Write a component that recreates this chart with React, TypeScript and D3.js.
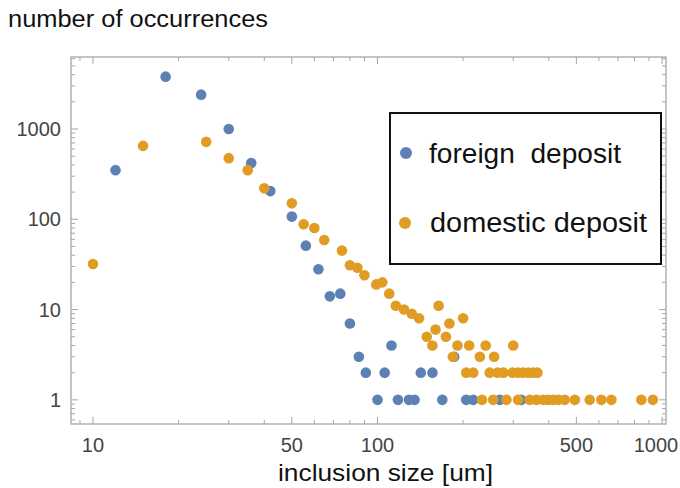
import React from "react";
import * as d3 from "d3";

const W = 680;
const H = 488;

// foreign deposit (blue)
const foreignSize = [12, 18, 24, 30, 36, 42, 50, 56, 62, 68, 74, 80, 86, 91, 100, 106, 112, 118, 129, 135, 142, 156, 169, 186, 205, 217, 269, 320];
const foreignCount = [350, 3800, 2400, 1000, 420, 205, 107, 51, 28, 14, 15, 7, 3, 2, 1, 2, 4, 1, 1, 1, 2, 2, 1, 3, 1, 1, 1, 1];

// domestic deposit (orange)
const domesticSize = [10, 15, 25, 30, 35, 40, 50, 55, 60, 65, 75, 80, 85, 90, 99, 104, 110, 116, 124, 132, 140, 149, 156, 160, 164, 174, 179, 184, 191, 200, 205, 210, 217, 229, 233, 240, 248, 255, 257, 264, 277, 284, 298, 300, 312, 312, 325, 339, 343, 353, 362, 365, 382, 398, 414, 432, 455, 494, 557, 612, 664, 846, 929];
const domesticCount = [32, 650, 720, 475, 350, 220, 150, 88, 80, 59, 45, 31, 29, 24, 19, 20, 15, 11, 10, 9, 8, 5, 4, 6, 11, 5, 7, 3, 4, 8, 2, 4, 2, 3, 1, 4, 2, 1, 3, 2, 2, 1, 2, 4, 2, 1, 2, 2, 1, 2, 1, 2, 1, 1, 1, 1, 1, 1, 1, 1, 1, 1, 1];

const xMajor = [10, 50, 100, 500, 1000];
const xMinor = [9, 20, 30, 40, 60, 70, 80, 90, 200, 300, 400, 600, 700, 800, 900];
const yMajor = [1, 10, 100, 1000];
const yMinor = [0.6, 0.7, 0.8, 0.9, 2, 3, 4, 5, 6, 7, 8, 9, 20, 30, 40, 50, 60, 70, 80, 90, 200, 300, 400, 500, 600, 700, 800, 900, 2000, 3000, 4000, 5000, 6000];

const BLUE = "#5e81b5";
const ORANGE = "#e19c24";
const FRAME = "#a6a6a6";
const FONT = "'Liberation Sans', Arial, sans-serif";

export default function App() {
  const left = 71, right = 666, top = 57, bottom = 424;
  const x = d3.scaleLog().domain([8.37, 1033]).range([left, right]);
  const y = d3.scaleLog().domain([0.54, 6270]).range([bottom, top]);

  const foreign = foreignSize.map((s, i) => [s, foreignCount[i]]);
  const domestic = domesticSize.map((s, i) => [s, domesticCount[i]]);

  return (
    <svg width={W} height={H} style={{ position: "absolute", left: 0, top: 0, background: "#fff" }} fontFamily={FONT}>
      <rect x={left} y={top} width={right - left} height={bottom - top} fill="none" stroke={FRAME} strokeWidth={1.3} />
      {/* x ticks, bottom and top, pointing inward */}
      {xMajor.map((v) => (
        <g key={"xM" + v} stroke={FRAME} strokeWidth={1}>
          <line x1={x(v)} x2={x(v)} y1={bottom} y2={bottom - 7} />
          <line x1={x(v)} x2={x(v)} y1={top} y2={top + 7} />
        </g>
      ))}
      {xMinor.map((v) => (
        <g key={"xm" + v} stroke={FRAME} strokeWidth={1}>
          <line x1={x(v)} x2={x(v)} y1={bottom} y2={bottom - 4} />
          <line x1={x(v)} x2={x(v)} y1={top} y2={top + 4} />
        </g>
      ))}
      {yMajor.map((v) => (
        <g key={"yM" + v} stroke={FRAME} strokeWidth={1}>
          <line x1={left} x2={left + 7} y1={y(v)} y2={y(v)} />
          <line x1={right} x2={right - 7} y1={y(v)} y2={y(v)} />
        </g>
      ))}
      {yMinor.map((v) => (
        <g key={"ym" + v} stroke={FRAME} strokeWidth={1}>
          <line x1={left} x2={left + 4} y1={y(v)} y2={y(v)} />
          <line x1={right} x2={right - 4} y1={y(v)} y2={y(v)} />
        </g>
      ))}
      {/* tick labels */}
      {xMajor.map((v) => (
        <text key={"xl" + v} x={Math.min(x(v), 656)} y={452} textAnchor="middle" fontSize={20} fill="#444">{v}</text>
      ))}
      {yMajor.map((v) => (
        <text key={"yl" + v} x={61} y={y(v) + 7} textAnchor="end" fontSize={20} fill="#444">{v}</text>
      ))}
      {/* points */}
      {foreign.map(([s, c], i) => (
        <circle key={"f" + i} cx={x(s)} cy={y(c)} r={5.3} fill={BLUE} />
      ))}
      {domestic.map(([s, c], i) => (
        <circle key={"d" + i} cx={x(s)} cy={y(c)} r={5.3} fill={ORANGE} />
      ))}
      {/* axis titles */}
      <text x={8} y={27} fontSize={23} fill="#111" textLength={260} lengthAdjust="spacingAndGlyphs">number of occurrences</text>
      <text x={278} y={481} fontSize={24} fill="#111" textLength={215} lengthAdjust="spacingAndGlyphs">inclusion size [um]</text>
      {/* legend */}
      <rect x={390} y={113} width={271} height={151} fill="#fff" stroke="#111" strokeWidth={2} />
      <circle cx={406} cy={153} r={6} fill={BLUE} />
      <text x={429} y={163} fontSize={27} fill="#111" textLength={192} lengthAdjust="spacingAndGlyphs" style={{ whiteSpace: "pre" }}>foreign  deposit</text>
      <circle cx={405} cy={223} r={6} fill={ORANGE} />
      <text x={430} y={232} fontSize={27} fill="#111" textLength={217} lengthAdjust="spacingAndGlyphs" style={{ whiteSpace: "pre" }}>domestic deposit</text>
    </svg>
  );
}
